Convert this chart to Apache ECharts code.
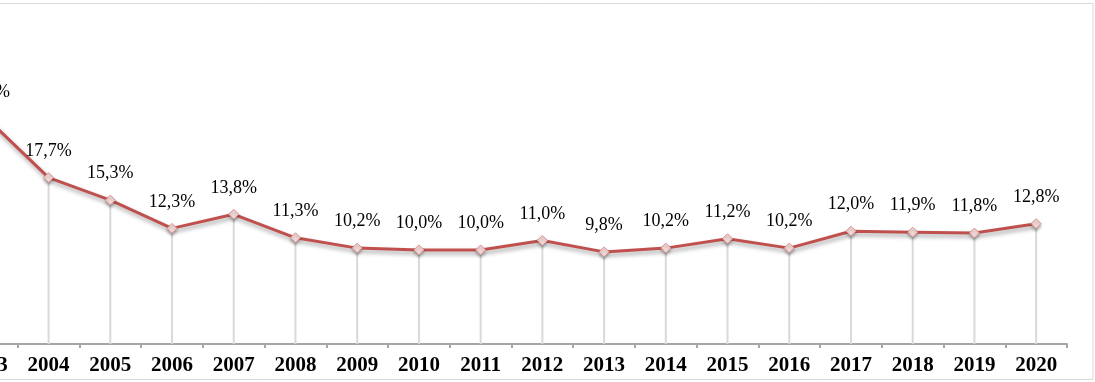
<!DOCTYPE html>
<html><head><meta charset="utf-8">
<script src="https://cdn.jsdelivr.net/npm/echarts@6/dist/echarts.min.js"></script>
<style>html,body{margin:0;padding:0;background:#fff;overflow:hidden;}#c{position:absolute;left:-44px;top:0;width:1139px;height:382px;}</style>
</head><body><div id="c"></div>
<script>
const years = ['2003','2004','2005','2006','2007','2008','2009','2010','2011','2012','2013','2014','2015','2016','2017','2018','2019','2020'];
const values = [24.0,17.7,15.3,12.3,13.8,11.3,10.2,10.0,10.0,11.0,9.8,10.2,11.2,10.2,12.0,11.9,11.8,12.8];
const labelTexts = ['24,0%','17,7%','15,3%','12,3%','13,8%','11,3%','10,2%','10,0%','10,0%','11,0%','9,8%','10,2%','11,2%','10,2%','12,0%','11,9%','11,8%','12,8%'];

const chart = echarts.init(document.getElementById('c'));
chart.setOption({
  animation:false,
  backgroundColor:'#fff',
  graphic:[{type:'rect',shape:{x:30,y:3.5,width:1107,height:376},style:{fill:'none',stroke:'#d9d9d9',lineWidth:1},z:-1}],
  grid:{left:0,right:28,top:15,bottom:38,containLabel:false},
  xAxis:{type:'category',data:years,boundaryGap:true,
    axisLine:{lineStyle:{color:'#a6a6a6',width:2}},
    axisTick:{show:true,length:4,lineStyle:{color:'#a6a6a6',width:2}},
    axisLabel:{color:'#000',fontFamily:'Liberation Serif',fontWeight:'bold',fontSize:21,margin:11},
    splitLine:{show:false}},
  yAxis:{type:'value',min:0,max:35,show:false,splitLine:{show:false}},
  series:[
    {type:'bar',data:values,barWidth:2,itemStyle:{color:'#d9d9d9'},z:1,silent:true},
    {type:'line',data:values.map((v,i)=>({value:v,label:{formatter:labelTexts[i]}})),z:3,
     symbol:'diamond',symbolSize:10,
     lineStyle:{color:'#c0504d',width:3,shadowColor:'rgba(0,0,0,0.35)',shadowBlur:4,shadowOffsetY:3,shadowOffsetX:1},
     itemStyle:{color:'#f4d9d8',borderColor:'#d99694',borderWidth:1,shadowColor:'rgba(0,0,0,0.3)',shadowBlur:3,shadowOffsetY:2},
     label:{show:true,position:'top',distance:12,color:'#000',fontFamily:'Liberation Serif',fontSize:18}}
  ]
});
</script></body></html>
